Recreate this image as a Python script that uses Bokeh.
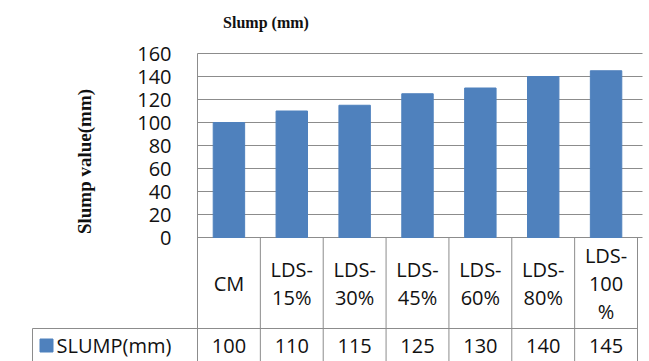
import math
from bokeh.plotting import figure
from bokeh.models import Range1d
from bokeh.core.properties import value
from bokeh.embed import file_html
from bokeh.resources import INLINE

# ---- data ----
categories = ["CM", "LDS-15%", "LDS-30%", "LDS-45%", "LDS-60%", "LDS-80%", "LDS-100%"]
header_labels = ["CM", "LDS-\n15%", "LDS-\n30%", "LDS-\n45%", "LDS-\n60%", "LDS-\n80%", "LDS-\n100\n%"]
slump = [100, 110, 115, 125, 130, 140, 145]
series_name = "SLUMP(mm)"
y_ticks = [0, 20, 40, 60, 80, 100, 120, 140, 160]
chart_title = "Slump (mm)"
y_title = "Slump value(mm)"

BAR = "#4F81BD"
GRID = "#8C8C8C"
TXT = "#111111"
FONT = "Open Sans"
SERIF = "Liberation Serif"

W, H = 649, 361
n = len(categories)
PX0, PX7 = 197, 637          # plot area left / right of last category
PY0, PY160 = 237, 53         # pixel rows of value 0 and 160
ux = (PX7 - PX0) / n          # pixels per category
uy = (PY0 - PY160) / 160      # pixels per mm


def xd(px):
    return (px - PX0) / ux


def yd(py):
    return (PY0 - py) / uy


xs = [i + 0.5 for i in range(n)]

p = figure(width=W, height=H, output_backend="svg", toolbar_location=None,
           x_range=Range1d(xd(0), xd(W)), y_range=Range1d(yd(H), yd(0)),
           min_border=0, x_axis_location=None, y_axis_location=None)
p.outline_line_color = None
p.xgrid.visible = False
p.ygrid.visible = False
p.background_fill_color = "white"
p.border_fill_color = "white"

# horizontal gridlines (value scale)
p.segment(x0=[0] * len(y_ticks), y0=y_ticks, x1=[xd(642)] * len(y_ticks), y1=y_ticks,
          line_color=GRID, line_width=1)
# plot-area left edge, continuing down through the table
p.segment(x0=[0], y0=[max(y_ticks)], x1=[0], y1=[yd(H)], line_color=GRID, line_width=1)

# bars
p.vbar(x=xs, top=slump, width=0.5, fill_color=BAR, line_color=BAR)

# y tick labels
p.text(x=[xd(171)] * len(y_ticks), y=y_ticks, text=[str(t) for t in y_ticks],
       text_align="right", text_baseline="middle", text_font=value(FONT),
       text_font_size="20px", text_color=TXT)
# y axis title
p.text(x=[xd(84)], y=[yd(161)], text=[y_title], angle=math.pi / 2, text_align="center",
       text_baseline="middle", text_font=value(SERIF), text_font_style="bold",
       text_font_size="19px", text_color=TXT)
# chart title
p.text(x=[xd(265.5)], y=[yd(22)], text=[chart_title], text_align="center",
       text_baseline="middle", text_font=value(SERIF), text_font_style="bold",
       text_font_size="16px", text_color=TXT)

# ---- data table ----
row_div = yd(328)
bottom = yd(H)
left_cell = xd(32)
p.segment(x0=list(range(1, n + 1)), y0=[0] * n, x1=list(range(1, n + 1)), y1=[bottom] * n,
          line_color=GRID, line_width=1)
p.segment(x0=[left_cell, left_cell], y0=[row_div, row_div], x1=[n, left_cell],
          y1=[row_div, bottom], line_color=GRID, line_width=1)

p.text(x=xs, y=[yd(283)] * n, text=header_labels, text_align="center",
       text_baseline="middle", text_font=value(FONT), text_font_size="20px",
       text_line_height=1.05, text_color=TXT)
p.text(x=xs, y=[yd(345)] * n, text=[str(v) for v in slump], text_align="center",
       text_baseline="middle", text_font=value(FONT), text_font_size="20px", text_color=TXT)
p.scatter(x=[xd(46)], y=[yd(345)], marker="square", size=13, fill_color=BAR, line_color=BAR)
p.text(x=[xd(56)], y=[yd(345)], text=[series_name], text_align="left",
       text_baseline="middle", text_font=value(FONT), text_font_size="20px", text_color=TXT)

open("out.html", "w").write(file_html(p, INLINE))
